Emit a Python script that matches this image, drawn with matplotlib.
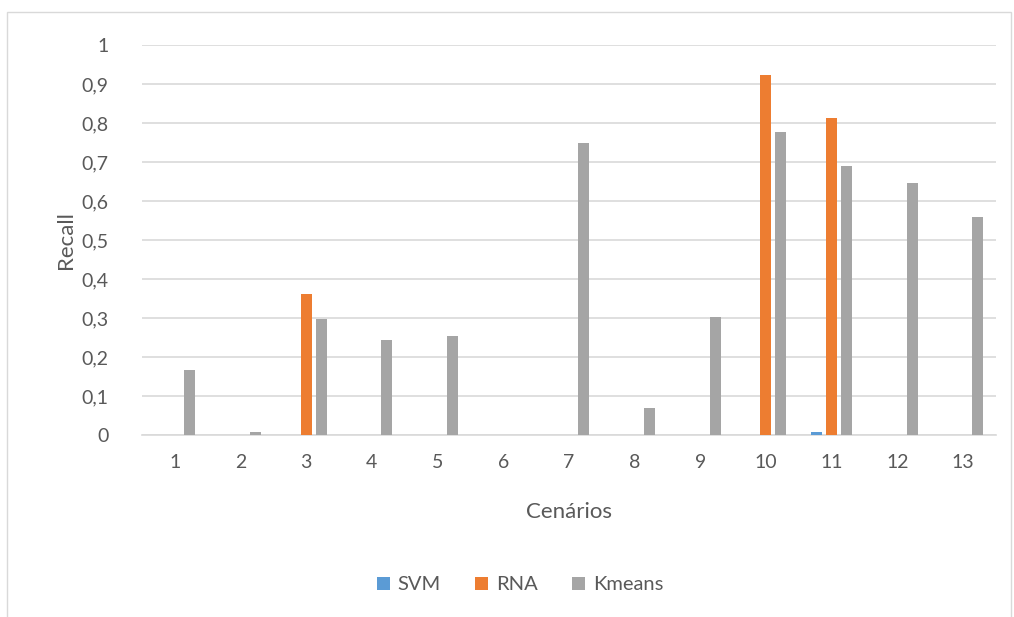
import numpy as np
import matplotlib
matplotlib.use("Agg")
import matplotlib.pyplot as plt
from matplotlib.patches import Rectangle
from matplotlib.ticker import FuncFormatter

# Data
cenarios = ["1", "2", "3", "4", "5", "6", "7", "8", "9", "10", "11", "12", "13"]
svm = [0, 0, 0, 0, 0, 0, 0, 0, 0, 0, 0.008, 0, 0]
rna = [0, 0, 0.362, 0, 0, 0, 0, 0, 0, 0.923, 0.814, 0, 0]
kmeans = [0.167, 0.008, 0.298, 0.243, 0.253, 0, 0.749, 0.068, 0.302, 0.776, 0.689, 0.645, 0.558]
series_names = ["SVM", "RNA", "Kmeans"]
colors = ["#5B9BD5", "#ED7D31", "#A5A5A5"]

plt.rcParams["font.family"] = ["Lato", "DejaVu Sans"]
text_color = "#595959"

fig = plt.figure(figsize=(10.14, 6.17), dpi=100)
ax = fig.add_axes([0.140, 0.295, 0.842, 0.632])

# Outer chart border (Excel style)
fig.patches.append(Rectangle((0.007, -0.01), 0.99, 0.99, transform=fig.transFigure,
                             fill=False, edgecolor="#D9D9D9", linewidth=1))

x = np.arange(len(cenarios))
width = 0.167
offset = 0.228
handles = []
for i, (vals, name, c) in enumerate(zip([svm, rna, kmeans], series_names, colors)):
    h = ax.bar(x + (i - 1) * offset, vals, width, color=c, label=name, zorder=3)
    handles.append(h)

ax.set_xlim(-0.5, len(cenarios) - 0.5)
ax.set_ylim(0, 1)
ax.set_yticks(np.arange(0, 1.01, 0.1))
ax.yaxis.set_major_formatter(FuncFormatter(lambda v, p: "0" if abs(v) < 1e-9 else ("1" if abs(v - 1) < 1e-9 else f"{v:.1f}".replace(".", ","))))
ax.set_xticks(x)
ax.set_xticklabels(cenarios)
ax.grid(axis="y", color="#D9D9D9", linewidth=1.2, zorder=0)
for s in ["top", "right", "left"]:
    ax.spines[s].set_visible(False)
ax.spines["bottom"].set_color("#D9D9D9")
ax.spines["bottom"].set_linewidth(1.2)
ax.tick_params(axis="both", length=0, labelsize=14, colors=text_color)
ax.tick_params(axis="y", pad=24)
ax.tick_params(axis="x", pad=14)

ax.set_ylabel("Recall", fontsize=16, color=text_color, labelpad=4)
ax.set_xlabel("Cenários", fontsize=16, color=text_color, labelpad=22)

fig.legend(handles=handles, labels=series_names, loc="center", bbox_to_anchor=(0.513, 0.052),
           ncol=3, frameon=False, fontsize=14.5, labelcolor=text_color,
           handlelength=0.65, handleheight=0.65, handletextpad=0.4, columnspacing=1.7)

fig.savefig("out.png", dpi=100)
